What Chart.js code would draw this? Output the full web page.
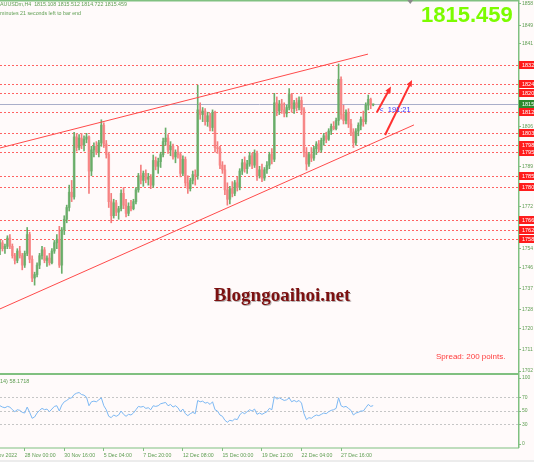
<!DOCTYPE html>
<html>
<head>
<meta charset="utf-8">
<title>XAUUSDm H4</title>
<script src="https://cdn.jsdelivr.net/npm/chart.js@4.4.1/dist/chart.umd.min.js"></script>
<style>
  html, body { margin: 0; padding: 0; background: #fffafa; overflow: hidden; }
  canvas { display: block; }
</style>
</head>
<body>
<canvas id="gold" width="534" height="462"></canvas>
<script>
// H4 bars, 24 Nov .. 29 Dec 2022
const open = [
  1754, 1756.5, 1754, 1755, 1758.5, 1755, 1751, 1749, 1753, 1751,
  1747, 1752, 1760, 1749.5, 1741.5, 1743, 1747, 1751, 1753.5, 1749,
  1750, 1748, 1753, 1756.5, 1758, 1747, 1762, 1766.5, 1771.5, 1778,
  1776, 1801.5, 1797, 1801, 1798, 1800.5, 1801.5, 1787, 1796, 1797.5,
  1795, 1799, 1806.5, 1798.5, 1794, 1774, 1768, 1773.5, 1769.5, 1771,
  1777.5, 1772.5, 1769, 1772, 1771, 1774, 1779, 1785, 1783, 1786,
  1783.5, 1784.5, 1781, 1791.5, 1789, 1791, 1794, 1799.5, 1801, 1796,
  1797.5, 1793, 1795, 1794, 1786, 1792, 1782, 1779.5, 1783, 1785.5,
  1785, 1813, 1811, 1812.5, 1808, 1810.5, 1805.5, 1812, 1797, 1796.5,
  1789.5, 1787.5, 1779, 1775, 1779.5, 1777.5, 1782, 1780, 1787, 1790.5,
  1788, 1790, 1793.5, 1789.5, 1794.5, 1785, 1787.5, 1784, 1787.5, 1789.5,
  1794, 1792, 1816, 1812.5, 1815.5, 1813, 1811.5, 1814, 1819.5, 1813.5,
  1816, 1814, 1817, 1813, 1795, 1790, 1794, 1792.5, 1796.5, 1798.5,
  1796, 1800, 1802, 1800.5, 1804, 1806, 1805, 1808.5, 1826, 1811,
  1808.5, 1812, 1807, 1803.5, 1799, 1804, 1806.5, 1809, 1808, 1815,
  1817.5, 1815.108
];
const high = [
  1757.5, 1757.5, 1756, 1759.5, 1760, 1756, 1752, 1754, 1755, 1752,
  1753, 1763, 1761, 1751, 1744, 1748, 1752, 1755, 1754.5, 1751,
  1752, 1754, 1757.5, 1760, 1763.5, 1763, 1768, 1772.5, 1781, 1783,
  1803.5, 1803, 1802.5, 1803, 1802, 1803, 1802, 1797.5, 1799, 1799.5,
  1800, 1808.8, 1807.5, 1800, 1795, 1777.5, 1775, 1774.5, 1772, 1779,
  1780, 1775, 1773.5, 1774.5, 1775, 1780, 1786, 1789.5, 1787, 1787.5,
  1786, 1785.5, 1793.8, 1793, 1792.5, 1795, 1801, 1805.3, 1802.5, 1799.5,
  1798.5, 1796, 1797.5, 1795, 1793.5, 1793, 1785, 1784, 1787, 1787.5,
  1823.5, 1816, 1814, 1813.5, 1812, 1811.5, 1813, 1812.5, 1799.5, 1797.5,
  1791, 1789.5, 1782, 1780.5, 1782.5, 1783, 1784.5, 1788, 1792, 1793,
  1791.5, 1795, 1794.5, 1796, 1795.5, 1789, 1790, 1788.5, 1791, 1795,
  1796.5, 1820, 1818.5, 1817, 1817.5, 1816, 1815, 1822, 1820, 1817,
  1818, 1818.5, 1818.5, 1814, 1797, 1795, 1797, 1797.5, 1799.5, 1800,
  1801, 1803, 1803.5, 1805, 1807, 1808, 1809.5, 1832.5, 1827, 1815,
  1813, 1813.5, 1809, 1805, 1805, 1807.5, 1810, 1812.5, 1816, 1819.3,
  1818, 1815.512
];
const low = [
  1751.5, 1753, 1752, 1754, 1754, 1750, 1747.5, 1748, 1750, 1745,
  1746, 1751, 1748, 1740, 1738.5, 1742, 1745.5, 1749.5, 1748, 1746.5,
  1747, 1747.5, 1752, 1754, 1746, 1743.5, 1760, 1765, 1770, 1774,
  1775, 1795.5, 1796, 1796.5, 1795.5, 1799, 1777.5, 1785, 1793, 1794,
  1793, 1797.5, 1797, 1792.5, 1771.5, 1765, 1767, 1768, 1766.5, 1770,
  1771, 1767.5, 1768, 1770, 1770.5, 1773, 1778, 1781.5, 1780.5, 1782,
  1781, 1779.5, 1780, 1787.5, 1786, 1788.5, 1793, 1798, 1794.5, 1793.5,
  1792, 1790.5, 1792.5, 1784.5, 1785, 1780.5, 1777.5, 1778.5, 1781.5, 1781,
  1783.5, 1809, 1808, 1806.5, 1806, 1804, 1804, 1795, 1794.5, 1788,
  1786, 1777, 1772.5, 1773, 1776, 1776.5, 1778.5, 1779, 1785.5, 1786.5,
  1786, 1789, 1788, 1788.5, 1783, 1784, 1782.5, 1783, 1786, 1788,
  1790, 1791, 1810.5, 1811, 1811.5, 1810, 1810, 1813, 1812, 1811.5,
  1812.5, 1813, 1811, 1793, 1787.4, 1789, 1791, 1791.5, 1794, 1795,
  1795, 1798, 1799, 1800, 1802.5, 1804.5, 1804.5, 1806.5, 1809, 1807,
  1807, 1805.5, 1802, 1797, 1798, 1802, 1804.5, 1806, 1807, 1813,
  1813.5, 1814.722
];
const close = [
  1756.5, 1754, 1755, 1758.5, 1755, 1751, 1749, 1753, 1751, 1747,
  1752, 1760, 1749.5, 1741.5, 1743, 1747, 1751, 1753.5, 1749, 1750,
  1748, 1753, 1756.5, 1758, 1747, 1762, 1766.5, 1771.5, 1778, 1776,
  1801.5, 1797, 1801, 1798, 1800.5, 1801.5, 1787, 1796, 1797.5, 1795,
  1799, 1806.5, 1798.5, 1794, 1774, 1768, 1773.5, 1769.5, 1771, 1777.5,
  1772.5, 1769, 1772, 1771, 1774, 1779, 1785, 1783, 1786, 1783.5,
  1784.5, 1781, 1791.5, 1789, 1791, 1794, 1799.5, 1801, 1796, 1797.5,
  1793, 1795, 1794, 1786, 1792, 1782, 1779.5, 1783, 1785.5, 1785,
  1813, 1811, 1812.5, 1808, 1810.5, 1805.5, 1812, 1797, 1796.5, 1789.5,
  1787.5, 1779, 1775, 1779.5, 1777.5, 1782, 1780, 1787, 1790.5, 1788,
  1790, 1793.5, 1789.5, 1794.5, 1785, 1787.5, 1784, 1787.5, 1789.5, 1794,
  1792, 1816, 1812.5, 1815.5, 1813, 1811.5, 1814, 1819.5, 1813.5, 1816,
  1814, 1817, 1813, 1795, 1790, 1794, 1792.5, 1796.5, 1798.5, 1796,
  1800, 1802, 1800.5, 1804, 1806, 1805, 1808.5, 1826, 1811, 1808.5,
  1812, 1807, 1803.5, 1799, 1804, 1806.5, 1809, 1808, 1815, 1817.5,
  1815.1, 1815.459
];
const rsi = [
  58, 56, 55, 57, 56, 52, 49, 52, 51, 48,
  47, 56, 48, 39, 41, 47, 51, 54, 52, 53,
  49, 53, 57, 58, 50, 59, 64, 66, 69, 70,
  75, 77, 78, 75, 74, 71, 58, 64, 65, 64,
  67, 70, 58, 52, 42, 40, 44, 42, 44, 50,
  45, 42, 45, 44, 47, 52, 57, 56, 57, 54,
  55, 52, 58, 57, 58, 61, 62, 63, 58, 60,
  56, 58, 55, 49, 53, 46, 43, 46, 48, 46,
  66, 64, 65, 62, 63, 60, 64, 52, 50, 44,
  42, 36, 33, 36, 35, 38, 37, 44, 48, 46,
  49, 52, 50, 53, 45, 47, 45, 47, 49, 54,
  52, 72, 68, 70, 68, 66, 67, 70, 64, 66,
  64, 66, 62, 46, 37, 40, 39, 42, 44, 43,
  45, 47, 46, 49, 51, 52, 54, 70, 58, 56,
  57, 54, 51, 44, 47, 48, 50, 50, 55, 60,
  57, 58.1718
];

const priceTicks = [1702, 1711, 1720, 1728, 1737, 1746, 1754, 1772, 1789, 1806, 1841, 1849, 1858];
const rsiTicks = [0, 30, 50, 70, 100];
const rsiLevels = [30, 50, 70];
const timeTickIndex = [-5, 10, 26, 42, 58, 74, 90, 106, 122, 138];
const timeTickLabels = ['24 Nov 2022', '28 Nov 00:00', '30 Nov 16:00', '5 Dec 04:00', '7 Dec 20:00',
  '12 Dec 08:00', '15 Dec 00:00', '19 Dec 12:00', '22 Dec 04:00', '27 Dec 16:00'];
const levels = [1832, 1824, 1820, 1812, 1803, 1798, 1795, 1785, 1780, 1766, 1762, 1758];

// channel lines and arrows, in (bar index, price)
const upperTrendX = [0, 148.9];
const upperTrendY = [1796.8, 1836.7];
const lowerTrendX = [0, 167.5];
const lowerTrendY = [1728.4, 1806.6];
const arrowFromX = [152.5, 155.8];
const arrowFromY = [1812.0, 1802.3];
const arrowToX = [158.2, 166.7];
const arrowToY = [1822.9, 1825.7];

const last = close.length - 1;
const bid = close[last];

const FONT = '"Liberation Sans", Arial, sans-serif';
const GREEN_LINE = '#80c080';
const AXIS_TEXT = '#5e9e52';

Chart.defaults.font.family = FONT;

const isUp = i => close[i] >= open[i];
const bars = close.map((_, i) => i);

function drawArrow(c, x0, y0, x1, y1) {
  const a = Math.atan2(y1 - y0, x1 - x0);
  c.beginPath();
  c.moveTo(x0, y0);
  c.lineTo(x1 - 4 * Math.cos(a), y1 - 4 * Math.sin(a));
  c.stroke();
  c.beginPath();
  c.moveTo(x1, y1);
  c.lineTo(x1 - 7 * Math.cos(a - 0.42), y1 - 7 * Math.sin(a - 0.42));
  c.lineTo(x1 - 7 * Math.cos(a + 0.42), y1 - 7 * Math.sin(a + 0.42));
  c.closePath();
  c.fill();
}

const overlay = {
  id: 'overlay',
  beforeDraw(chart) {
    const c = chart.ctx;
    c.save();
    c.fillStyle = '#fffafa';
    c.fillRect(0, 0, chart.width, chart.height);
    c.fillStyle = '#ececec';
    c.fillRect(0, 460, chart.width, 2);
    c.restore();
  },
  beforeDatasetsDraw(chart) {
    const {ctx: c, chartArea: a, scales: {y}} = chart;
    c.save();
    c.lineWidth = 1;
    c.strokeStyle = '#ff6262';
    c.setLineDash([2, 2]);
    levels.forEach(v => {
      const yy = Math.round(y.getPixelForValue(v)) + 0.5;
      c.beginPath(); c.moveTo(a.left, yy); c.lineTo(a.right, yy); c.stroke();
    });
    c.setLineDash([]);
    c.strokeStyle = '#a9aec9';
    const yb = Math.round(y.getPixelForValue(bid)) + 0.5;
    c.beginPath(); c.moveTo(a.left, yb); c.lineTo(a.right, yb); c.stroke();
    c.restore();
  },
  afterDatasetsDraw(chart) {
    const {ctx: c, scales: {x, y}} = chart;
    c.save();
    // arrows
    c.strokeStyle = '#ff3030';
    c.fillStyle = '#ff3030';
    c.lineWidth = 2;
    arrowFromX.forEach((_, k) => {
      drawArrow(c, x.getPixelForValue(arrowFromX[k]), y.getPixelForValue(arrowFromY[k]),
        x.getPixelForValue(arrowToX[k]), y.getPixelForValue(arrowToY[k]));
    });
    // bar countdown
    c.fillStyle = '#3a3aff';
    c.font = '7.5px ' + FONT;
    c.textBaseline = 'middle';
    c.fillText('<  191:21', x.getPixelForValue(last) + 6, y.getPixelForValue(bid) + 6);
    // watermark
    c.font = 'bold 19px "Liberation Serif", "Times New Roman", serif';
    c.textAlign = 'center';
    c.textBaseline = 'alphabetic';
    c.shadowColor = 'rgba(90,90,90,0.45)';
    c.shadowOffsetX = 1;
    c.shadowOffsetY = 1;
    c.fillStyle = '#7c1010';
    c.fillText('Blogngoaihoi.net', 282, 301);
    c.restore();
  },
  afterDraw(chart) {
    const {ctx: c, chartArea: a, scales: {y}} = chart;
    c.save();
    // frame
    c.fillStyle = GREEN_LINE;
    c.fillRect(0, 0, a.right, 1.5);
    c.fillRect(a.right - 1, 0, 1.5, a.bottom);
    c.fillRect(0, 373, a.right, 2);
    c.fillRect(0, a.bottom - 0.5, a.right, 1);
    // level labels on the price axis
    c.font = '5.5px ' + FONT;
    c.textBaseline = 'middle';
    levels.forEach(v => {
      const yy = Math.round(y.getPixelForValue(v));
      c.fillStyle = '#ff1c1c';
      c.fillRect(a.right, yy - 4, 16, 8);
      c.fillStyle = '#ffffff';
      c.fillText(String(v), a.right + 3, yy + 0.5);
    });
    const yb = Math.round(y.getPixelForValue(bid));
    c.fillStyle = '#2e8a2e';
    c.fillRect(a.right, yb - 4, 16, 8);
    c.fillStyle = '#ffffff';
    c.fillText(String(Math.floor(bid)), a.right + 3, yb + 0.5);
    // chart shift marker
    c.fillStyle = '#8a8a8a';
    const sx = chart.scales.x.getPixelForValue(166);
    c.beginPath(); c.moveTo(sx - 3, 0); c.lineTo(sx + 3, 0); c.lineTo(sx, 4); c.closePath(); c.fill();
    // texts
    c.fillStyle = AXIS_TEXT;
    c.font = '5.3px ' + FONT;
    c.fillText('XAUUSDm,H4  ' + [open[last], high[last], low[last], close[last]].map(v => v.toFixed(3)).join(' '), -3.5, 4.5);
    c.fillText('191 minutes 21 seconds left to bar end', -10.3, 13.5);
    c.font = '5.5px ' + FONT;
    c.fillText('RSI(14) ' + rsi[last].toFixed(4), -11, 381);
    c.fillStyle = '#7cfc00';
    c.font = 'bold 22px ' + FONT;
    c.textBaseline = 'alphabetic';
    c.fillText(bid.toFixed(3), 421, 22);
    c.fillStyle = '#ff3c3c';
    c.font = '8px ' + FONT;
    c.textBaseline = 'middle';
    c.fillText('Spread: 200 points.', 436, 356.5);
    c.restore();
  }
};

new Chart(document.getElementById('gold'), {
  type: 'bar',
  data: {
    datasets: [
      {
        type: 'bar',
        data: bars.map(i => ({x: i, y: [low[i], high[i]]})),
        barThickness: 1,
        grouped: false,
        backgroundColor: ctx => isUp(ctx.dataIndex) ? '#6aae6a' : '#f47e7e',
        yAxisID: 'y',
        order: 3
      },
      {
        type: 'bar',
        data: bars.map(i => ({x: i, y: [open[i], close[i]]})),
        barThickness: 2,
        minBarLength: 1,
        grouped: false,
        backgroundColor: ctx => isUp(ctx.dataIndex) ? 'rgba(104,172,104,0.75)' : 'rgba(247,132,132,0.75)',
        yAxisID: 'y',
        order: 2
      },
      {
        type: 'line',
        data: upperTrendX.map((v, k) => ({x: v, y: upperTrendY[k]})),
        borderColor: '#ff4a4a',
        borderWidth: 1,
        pointRadius: 0,
        yAxisID: 'y',
        order: 1
      },
      {
        type: 'line',
        data: lowerTrendX.map((v, k) => ({x: v, y: lowerTrendY[k]})),
        borderColor: '#ff4a4a',
        borderWidth: 1,
        pointRadius: 0,
        yAxisID: 'y',
        order: 1
      },
      {
        type: 'line',
        data: rsi.map((v, i) => ({x: i, y: v})),
        borderColor: '#7db9f4',
        borderWidth: 1,
        pointRadius: 0,
        yAxisID: 'y2',
        order: 1
      }
    ]
  },
  options: {
    responsive: false,
    animation: false,
    events: [],
    devicePixelRatio: 1,
    layout: { padding: 0, autoPadding: false },
    plugins: { legend: { display: false }, tooltip: { enabled: false } },
    scales: {
      x: {
        type: 'linear',
        min: 0,
        max: 210,
        offset: false,
        position: 'bottom',
        afterBuildTicks: s => { s.ticks = timeTickIndex.map(v => ({value: v})); },
        afterFit: s => { s.height = 14; s.paddingLeft = 0; s.paddingRight = 0; },
        ticks: {
          autoSkip: false,
          maxRotation: 0,
          align: 'start',
          padding: 1,
          color: AXIS_TEXT,
          font: { size: 5.2 },
          callback: (v, k) => timeTickLabels[k]
        },
        grid: { offset: false, drawOnChartArea: false, drawTicks: true, tickLength: 3, color: GREEN_LINE },
        border: { display: false }
      },
      y: {
        type: 'linear',
        position: 'right',
        stack: 'panes',
        stackWeight: 373,
        min: 1701.15,
        max: 1859.7,
        afterBuildTicks: s => { s.ticks = priceTicks.map(v => ({value: v})); },
        afterFit: s => { s.width = 15; s.paddingTop = 0; s.paddingBottom = 0; },
        ticks: { padding: 1, color: AXIS_TEXT, font: { size: 5 }, callback: v => String(v) },
        grid: { drawOnChartArea: false, tickLength: 2, color: GREEN_LINE },
        border: { display: false }
      },
      y2: {
        type: 'linear',
        position: 'right',
        stack: 'panes',
        stackWeight: 75,
        min: -6,
        max: 107.6,
        afterBuildTicks: s => { s.ticks = rsiTicks.map(v => ({value: v})); },
        afterFit: s => { s.width = 15; s.paddingTop = 0; s.paddingBottom = 0; },
        ticks: { padding: 1, color: AXIS_TEXT, font: { size: 5 }, callback: v => String(v) },
        grid: {
          drawOnChartArea: true,
          tickLength: 2,
          color: ctx => rsiLevels.includes(ctx.tick && ctx.tick.value) ? '#c6c6c6' : 'rgba(0,0,0,0)',
          tickColor: GREEN_LINE
        },
        border: { display: false, dash: [2, 2] }
      }
    }
  },
  plugins: [overlay]
});
</script>
</body>
</html>
